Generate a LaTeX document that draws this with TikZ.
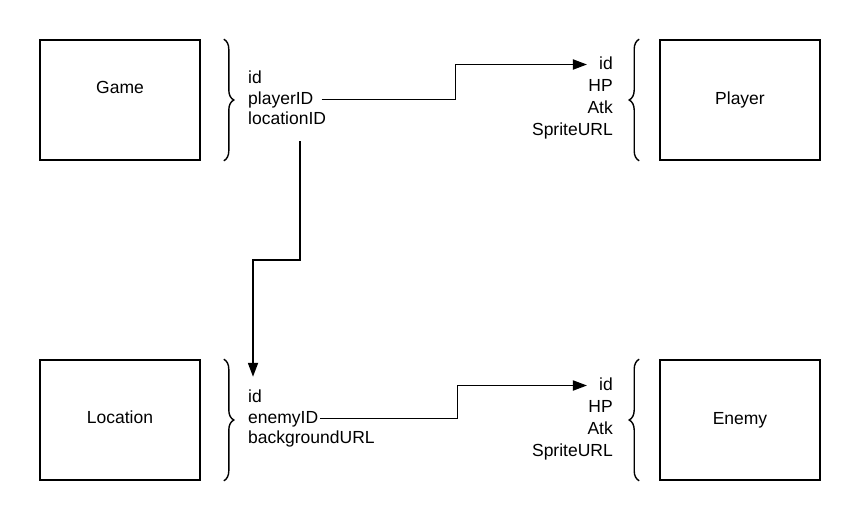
\documentclass[tikz,border=0pt]{standalone}
\usepackage{fontspec}
\setmainfont{Liberation Sans}
\usetikzlibrary{arrows.meta, decorations.pathreplacing}

\begin{document}
\begin{tikzpicture}[x=1pt, y=-1pt,
  font=\fontsize{17.5}{21}\selectfont,
  box/.style={draw, line width=1.6pt, minimum width=160pt, minimum height=120pt},
  field/.style={inner ysep=0pt, inner xsep=2pt, text height=13pt, text depth=4pt},
  brace/.style={line width=1.4pt, decorate, decoration={brace, amplitude=10pt}},
  link/.style={line width=1.8pt, -{Triangle[length=14pt, width=10pt]}}]
  \useasboundingbox (0,0) rectangle (860,520);

  % tables
  \node[box, text depth=26pt] (game) at (120,100) {Game};
  \node[box] (player) at (740,100) {Player};
  \node[box, text depth=6pt] (location) at (120,420) {Location};
  \node[box, text depth=4pt] (enemy) at (740,420) {Enemy};

  % braces
  \draw[brace] ([xshift=23pt]game.north east) -- ([xshift=23pt]game.south east);
  \draw[brace] ([xshift=23pt]location.north east) -- ([xshift=23pt]location.south east);
  \draw[brace] ([xshift=-20pt]player.south west) -- ([xshift=-20pt]player.north west);
  \draw[brace] ([xshift=-20pt]enemy.south west) -- ([xshift=-20pt]enemy.north west);

  % fields
  \node[field, anchor=base west] (gId) at (246,83) {id};
  \node[field, anchor=base west] (gPlayer) at (246,104) {playerID};
  \node[field, anchor=base west] (gLocation) at (246,124) {locationID};

  \node[field, anchor=base east] (pId) at (615,69) {id};
  \node[field, anchor=base east] (pHP) at (615,91) {HP};
  \node[field, anchor=base east] (pAtk) at (615,113) {Atk};
  \node[field, anchor=base east] (pSprite) at (615,135) {SpriteURL};

  \node[field, anchor=base west] (lId) at (246,402) {id};
  \node[field, anchor=base west] (lEnemy) at (246,423) {enemyID};
  \node[field, anchor=base west] (lBackground) at (246,443) {backgroundURL};

  \node[field, anchor=base east] (eId) at (615,390) {id};
  \node[field, anchor=base east] (eHP) at (615,412) {HP};
  \node[field, anchor=base east] (eAtk) at (615,434) {Atk};
  \node[field, anchor=base east] (eSprite) at (615,456) {SpriteURL};

  % links
  \draw[link, shorten <=6pt, shorten >=10pt] (gPlayer.east) -- ++(140,0) |- (pId.west);
  \draw[link, shorten >=10pt] (lEnemy.east) -- ++(137,0) |- (eId.west);
  \draw[link, shorten >=12pt] ([xshift=13pt, yshift=-13pt]gLocation.south) -- ++(0,119) -| ([xshift=-2pt]lId.north);
\end{tikzpicture}
\end{document}
